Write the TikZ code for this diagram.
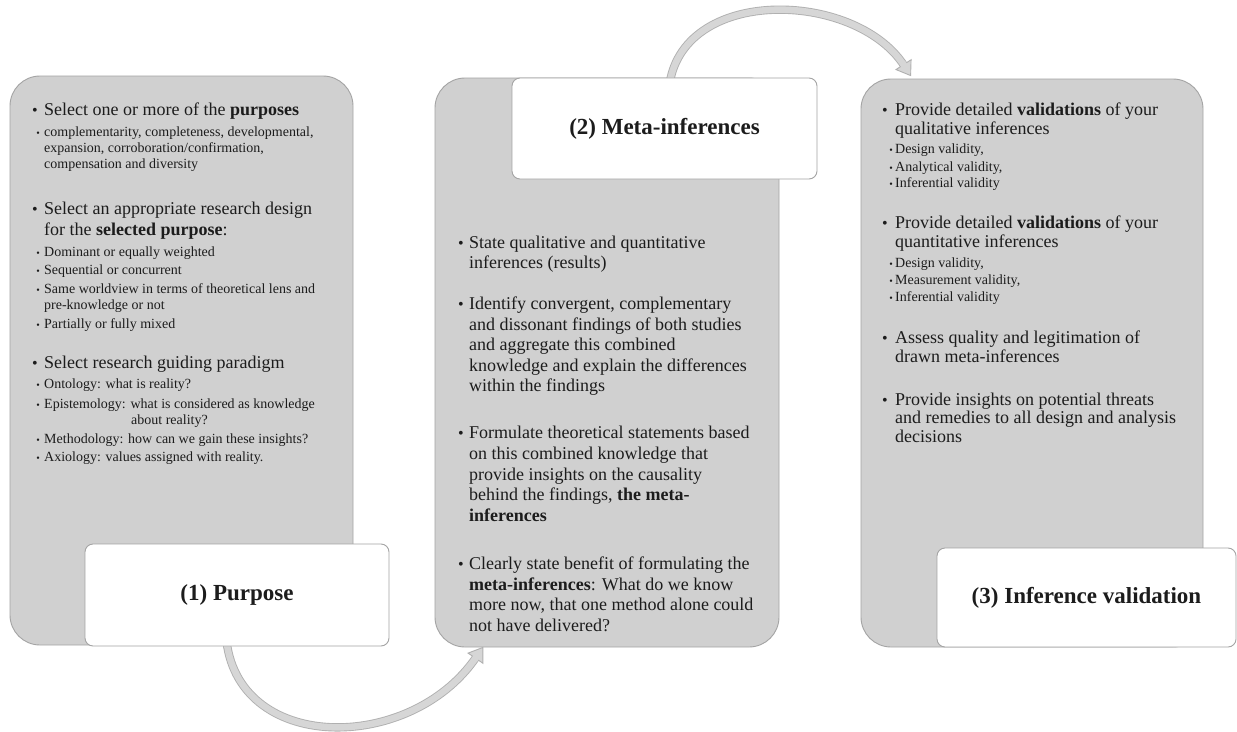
\documentclass[tikz,border=0pt]{standalone}
\usepackage{fontspec}
\setmainfont{Liberation Serif}
\usetikzlibrary{calc}

\definecolor{panelfill}{HTML}{D0D0D0}
\definecolor{panelline}{HTML}{A4A4A4}
\definecolor{arrowfill}{HTML}{D6D6D6}
\definecolor{arrowline}{HTML}{B0B0B0}
\definecolor{ink}{HTML}{1C1C1C}

\tikzset{
  panel/.style={draw=panelline, fill=panelfill, line width=0.9pt, rounded corners=30pt, inner sep=0pt},
  titlebox/.style={draw=panelline, fill=white, line width=0.9pt, rounded corners=8pt, inner sep=0pt,
    text=ink, font=\fontsize{23}{26}\selectfont\bfseries},
  txt/.style={anchor=base west, inner sep=0pt, text=ink, font=\fontsize{18}{21}\selectfont},
  subtxt/.style={txt, font=\fontsize{14}{16}\selectfont},
  bigdot/.style={anchor=base, inner sep=0pt, text=ink, font=\fontsize{16}{18}\selectfont},
  smalldot/.style={anchor=base, inner sep=0pt, text=ink, font=\fontsize{10}{12}\selectfont},
  band/.style={draw=arrowline, line width=0.9pt, double=arrowfill, double distance=6.5pt},
  headtip/.style={draw=arrowline, fill=arrowfill, line width=0.9pt, line join=miter},
  joint/.style={draw=arrowfill, line width=6.5pt}
}

% one text line, a main bullet, a sub bullet (auto-named nodes)
\newcounter{tl}
\newcommand\mainln[3]{\stepcounter{tl}\node[txt] (t\number\value{tl}) at (#1,#2) {#3};}
\newcommand\subln[3]{\stepcounter{tl}\node[subtxt] (t\number\value{tl}) at (#1,#2) {#3};}
\newcommand\mdot[2]{\stepcounter{tl}\node[bigdot] (t\number\value{tl}) at (#1,#2) {\textbullet};}
\newcommand\sdot[2]{\stepcounter{tl}\node[smalldot] (t\number\value{tl}) at (#1,#2) {\textbullet};}

\begin{document}
\begin{tikzpicture}[x=1pt, y=-1pt]
\useasboundingbox (0,0) rectangle (1237,731);
\fill[white] (0,0) rectangle (1237,731);

% --- grey panels
\node[panel, minimum width=343pt, minimum height=569pt] (p1) at (181.5,360.5) {};
\node[panel, minimum width=344pt, minimum height=569pt] (p2) at (607,362.5) {};
\node[panel, minimum width=342pt, minimum height=568pt] (p3) at (1032,363) {};

% --- anchors of the curved arrows (title boxes are drawn over their tails)
\coordinate (b1c) at (237,595);
\coordinate (b2c) at (664.5,128.5);

% arrow (1) -> (2), below
\coordinate (a1s) at (226,636);
\coordinate (a1e) at ($(p2.south west)!0.14!(p2.south east)$);
\coordinate (a1c1) at (235,754);
\coordinate (a1c2) at (410,754);
\draw[band, shorten >=12pt] (a1s) .. controls (a1c1) and (a1c2) .. (a1e);
\coordinate (a1b) at ($(a1e)!13pt!(a1c2)$);
\draw[headtip] (a1e) -- ($(a1b)!9pt!90:(a1e)$) -- ($(a1b)!9pt!-90:(a1e)$) -- cycle;
\draw[joint] ($(a1b)!2pt!(a1c2)$) -- ($(a1b)!1.5pt!(a1e)$);

% arrow (2) -> (3), above
\coordinate (a2s) at (669,88);
\coordinate (a2e) at ($(p3.north west)!0.146!(p3.north east)+(0,-3)$);
\coordinate (a2c1) at (680,-15);
\coordinate (a2c2) at (855,-10);
\draw[band, shorten >=12pt] (a2s) .. controls (a2c1) and (a2c2) .. (a2e);
\coordinate (a2b) at ($(a2e)!13pt!(a2c2)$);
\draw[headtip] (a2e) -- ($(a2b)!9pt!90:(a2e)$) -- ($(a2b)!9pt!-90:(a2e)$) -- cycle;
\draw[joint] ($(a2b)!2pt!(a2c2)$) -- ($(a2b)!1.5pt!(a2e)$);

% --- white title boxes
\node[titlebox, minimum width=304pt, minimum height=102pt] (b1) at (b1c) {(1) Purpose};
\node[titlebox, minimum width=305pt, minimum height=101pt] (b2) at (b2c) {(2) Meta-inferences};
\node[titlebox, minimum width=299pt, minimum height=99pt] (b3) at (1086.5,597.5) {(3) Inference validation};

% --- panel 1 text
\mdot{35}{115}\mainln{44}{115}{Select one or more of the \textbf{purposes}}
\sdot{38}{136}\subln{44}{136}{complementarity, completeness, developmental,}
\subln{44}{152}{expansion, corroboration/confirmation,}
\subln{44}{168}{compensation and diversity}

\mdot{35}{214}\mainln{44}{214}{Select an appropriate research design}
\mainln{44}{235}{for the \textbf{selected purpose}:}
\sdot{38}{256}\subln{44}{256}{Dominant or equally weighted}
\sdot{38}{274}\subln{44}{274}{Sequential or concurrent}
\sdot{38}{293}\subln{44}{293}{Same worldview in terms of theoretical lens and}
\subln{44}{309}{pre-knowledge or not}
\sdot{38}{328}\subln{44}{328}{Partially or fully mixed}

\mdot{35}{368}\mainln{44}{368}{Select research guiding paradigm}
\sdot{38}{388}\subln{44}{388}{Ontology: what is reality?}
\sdot{38}{408}\subln{44}{408}{Epistemology: what is considered as knowledge}
\subln{131}{424}{about reality?}
\sdot{38}{443}\subln{44}{443}{Methodology: how can we gain these insights?}
\sdot{38}{461}\subln{44}{461}{Axiology: values assigned with reality.}

% --- panel 2 text
\mdot{461}{248}\mainln{469}{248}{State qualitative and quantitative}
\mainln{469}{268}{inferences (results)}

\mdot{461}{309}\mainln{469}{309}{Identify convergent, complementary}
\mainln{469}{330}{and dissonant findings of both studies}
\mainln{469}{350}{and aggregate this combined}
\mainln{469}{371}{knowledge and explain the differences}
\mainln{469}{391}{within the findings}

\mdot{461}{438}\mainln{469}{438}{Formulate theoretical statements based}
\mainln{469}{459}{on this combined knowledge that}
\mainln{469}{480}{provide insights on the causality}
\mainln{469}{500}{behind the findings, \textbf{the meta-}}
\mainln{469}{521}{\textbf{inferences}}

\mdot{461}{569}\mainln{469}{569}{Clearly state benefit of formulating the}
\mainln{469}{590}{\textbf{meta-inferences}: What do we know}
\mainln{469}{610}{more now, that one method alone could}
\mainln{469}{631}{not have delivered?}

% --- panel 3 text
\mdot{885}{115}\mainln{895}{115}{Provide detailed \textbf{validations} of your}
\mainln{895}{134}{qualitative inferences}
\sdot{891}{153}\subln{895}{153}{Design validity,}
\sdot{891}{171}\subln{895}{171}{Analytical validity,}
\sdot{891}{187}\subln{895}{187}{Inferential validity}

\mdot{885}{228}\mainln{895}{228}{Provide detailed \textbf{validations} of your}
\mainln{895}{247}{quantitative inferences}
\sdot{891}{267}\subln{895}{267}{Design validity,}
\sdot{891}{284}\subln{895}{284}{Measurement validity,}
\sdot{891}{301}\subln{895}{301}{Inferential validity}

\mdot{885}{343}\mainln{895}{343}{Assess quality and legitimation of}
\mainln{895}{362}{drawn meta-inferences}

\mdot{885}{405}\mainln{895}{405}{Provide insights on potential threats}
\mainln{895}{423}{and remedies to all design and analysis}
\mainln{895}{442}{decisions}
\end{tikzpicture}
\end{document}
